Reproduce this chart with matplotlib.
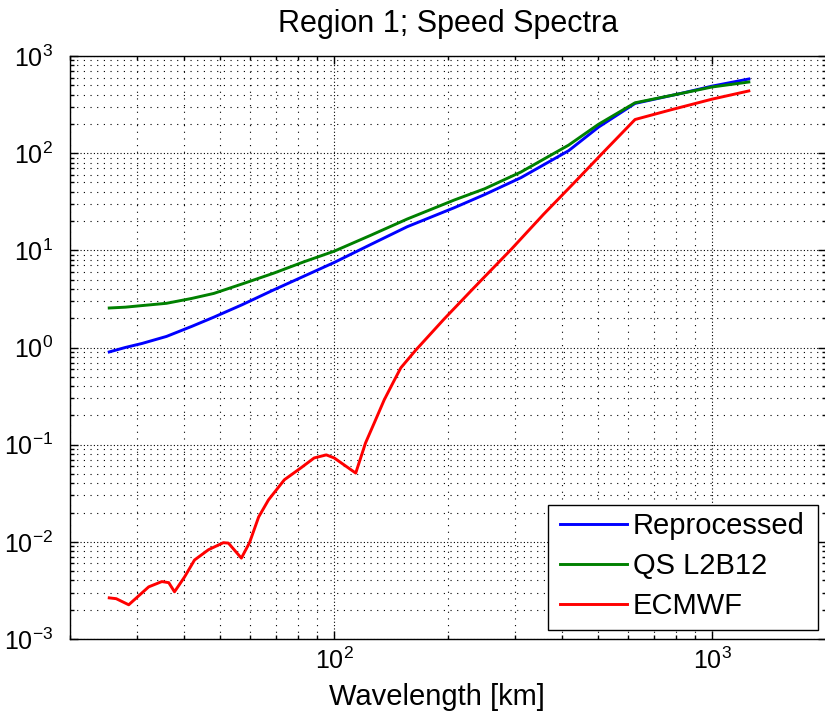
import numpy as np
import matplotlib
matplotlib.use('Agg')
import matplotlib.pyplot as plt
from matplotlib.patches import Rectangle
from matplotlib.transforms import Bbox, TransformedBbox
from matplotlib.ticker import LogLocator, NullFormatter

plt.rcParams['font.family'] = ['Liberation Sans', 'DejaVu Sans']
plt.rcParams['mathtext.fontset'] = 'custom'
plt.rcParams['mathtext.rm'] = 'Liberation Sans'
plt.rcParams['mathtext.default'] = 'regular'

# wavelength [km] and spectra
wl = [1250, 1000, 833, 625, 500, 417, 312, 250, 208, 156, 125, 100,
      83, 69, 57, 48, 42, 36, 31, 28, 25.4]
reproc = [580, 490, 415, 325, 185, 106, 56, 37.5, 27.5, 17.5, 11.5, 7.5,
          5.4, 3.9, 2.75, 2.05, 1.65, 1.3, 1.1, 1.0, 0.9]
qs_l2b12 = [540, 480, 414, 330, 198, 121, 64, 43, 33, 21, 14.3, 9.8,
            7.6, 5.8, 4.5, 3.6, 3.2, 2.85, 2.7, 2.6, 2.55]

wl_ec = [1250, 1000, 774, 625, 515, 430, 358, 293, 234, 195, 164.5, 150,
         143, 135.6, 127.6, 121, 114, 100, 95.3, 88.5, 81.8, 73.8, 67,
         63.1, 59.7, 56.8, 52.5, 50.9, 46.5, 42.7, 40.2, 37.8, 36.5, 35.0,
         32.3, 28.6, 26.5, 25.4]
ecmwf = [437, 360, 278, 222, 102, 49, 23.5, 10.1, 4.1, 1.95, 0.944, 0.617,
         0.432, 0.289, 0.167, 0.104, 0.051, 0.073, 0.0785, 0.073, 0.058,
         0.0435, 0.027, 0.018, 0.0098, 0.0068, 0.0097, 0.0098, 0.0083,
         0.0065, 0.00436, 0.00306, 0.0038, 0.0039, 0.00344, 0.00225,
         0.0026, 0.00265]

xticks = [1e2, 1e3]
yticks = [1e-3, 1e-2, 1e-1, 1e0, 1e1, 1e2, 1e3]

W, H = 825, 728
fig = plt.figure(figsize=(W/100, H/100), dpi=100)
ax = fig.add_axes([70/W, 1-639/H, 756/W, 583/H])

ax.loglog(wl, reproc, color='b', lw=2.1, label='Reprocessed')
ax.loglog(wl, qs_l2b12, color=(0, 0.5, 0), lw=2.1, label='QS L2B12')
ax.loglog(wl_ec, ecmwf, color='r', lw=2.1, label='ECMWF')

ax.set_xlim(20, 2000)
ax.set_ylim(1e-3, 1e3)
ax.set_xticks(xticks)
ax.set_yticks(yticks)
for a in (ax.xaxis, ax.yaxis):
    a.set_minor_locator(LogLocator(base=10, subs=np.arange(2, 10), numticks=100))
    a.set_minor_formatter(NullFormatter())

ax.grid(True, which='major', color='k', linestyle=(0, (1, 2)), lw=0.8)
ax.grid(True, which='minor', color='k', linestyle=(0, (1, 5)), lw=0.8)
ax.tick_params(which='both', direction='in', top=True, right=True, width=1)
ax.tick_params(which='major', length=6)
ax.tick_params(which='minor', length=3)
ax.tick_params(axis='x', labelsize=18, pad=6)
ax.tick_params(axis='y', labelsize=18, pad=12)
for s in ax.spines.values():
    s.set_linewidth(1)

ax.set_title('Region 1; Speed Spectra', fontsize=22, pad=17)
ax.set_xlabel('Wavelength [km]', fontsize=21)
ax.xaxis.set_label_coords(0.485, -0.075)

leg = ax.legend(loc='upper left', bbox_to_anchor=(560/W, 1-512/H),
                bbox_transform=fig.transFigure, frameon=False, fontsize=21,
                handlelength=2.3, handletextpad=0.2, labelspacing=0.42,
                borderpad=0, borderaxespad=0)
box = Rectangle((548/W, 1-630/H), 270/W, 125/H, transform=fig.transFigure,
                fc='white', ec='black', lw=1, zorder=4, clip_on=False)
ax.add_patch(box)
clip = TransformedBbox(Bbox.from_extents(548/W, 1-630/H, 816/W, 1-505/H),
                       fig.transFigure)
for t in leg.get_texts():
    t.set_clip_box(clip)
    t.set_clip_on(True)

fig.savefig('out.png', dpi=100)
